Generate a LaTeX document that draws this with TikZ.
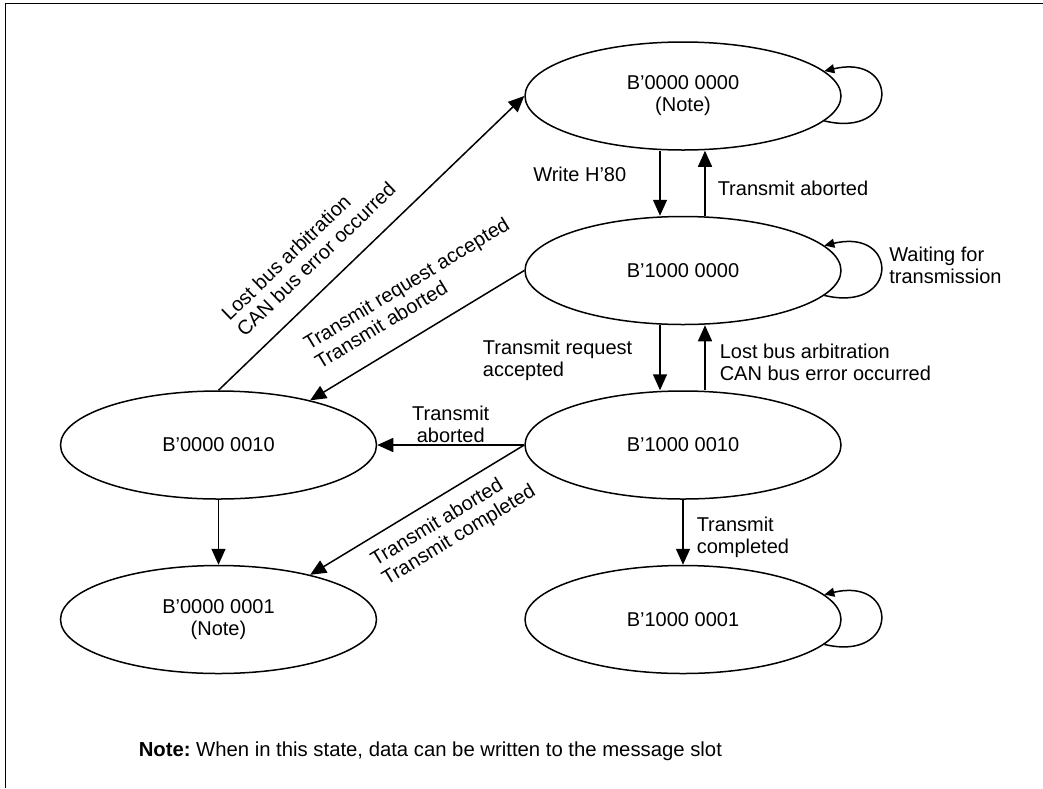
\documentclass[tikz,border=0pt]{standalone}
\usepackage{fontspec}
\setmainfont{Liberation Sans}
\usetikzlibrary{positioning,shapes.geometric,arrows.meta}

\begin{document}
\begin{tikzpicture}[x=.5pt,y=-.5pt,>={Triangle[length=8pt,width=7pt]},line width=.75pt,
 every node/.style={font=\fontsize{10}{11}\selectfont,align=center},
 state/.style={draw,ellipse,minimum width=158pt,minimum height=54pt},
 lbl/.style={align=left,inner sep=1pt},
 selfloop/.style={->,>={Triangle[length=5pt,width=4.5pt]}},
 node distance=32.5pt and 73.5pt]
\useasboundingbox (0,0) rectangle (1043,788);
\draw[line width=.5pt] (1043,3) -- (5,3) -- (5,788);
% message slot states
\node[state] (n00) at (683,96) {B’0000 0000\\(Note)};
\node[state,below=of n00] (n80) {B’1000 0000};
\node[state,below=of n80] (n82) {B’1000 0010};
\node[state,left=of n82] (n02) {B’0000 0010};
\node[state,below=of n02] (n01) {B’0000 0001\\(Note)};
\node[state,below=of n82] (n81) {B’1000 0001};
% transitions
\draw[->] ([xshift=-11.5pt]n00.south) -- ([xshift=-11.5pt]n80.north) node[lbl,midway,left=15.5pt,yshift=4.5pt] {Write H’80};
\draw[->] ([xshift=11pt]n80.north) -- ([xshift=11pt]n00.south) node[lbl,midway,right=5pt,yshift=-2.5pt] {Transmit aborted};
\draw[->] ([xshift=-11.5pt]n80.south) -- ([xshift=-11.5pt]n82.north) node[lbl,midway,left=12.5pt,yshift=-1.5pt] {Transmit request\\accepted};
\draw[->] ([xshift=11pt]n82.north) -- ([xshift=11pt]n80.south) node[lbl,midway,right=6pt,yshift=-2.5pt] {Lost bus arbitration\\CAN bus error occurred};
\draw[->] (n82.west) -- (n02.east) node[lbl,align=center,midway,above] {Transmit\\aborted};
\draw[->] (n82.west) -- (n01.26) node[lbl,pos=.41,sloped,below=5pt] {Transmit aborted\\Transmit completed};
\draw[->] (n80.west) -- (n02.26) node[lbl,pos=.43,sloped,above=9pt] {Transmit request accepted\\Transmit aborted};
\draw[->] (n02.north) -- (n00.west) node[lbl,pos=.38,sloped,above=8.5pt] {Lost bus arbitration\\CAN bus error occurred};
\draw[->] (n02) -- (n01);
\draw[->] (n82) -- (n81) node[lbl,midway,right=5.5pt,yshift=-2.5pt] {Transmit\\completed};
% self loops
\draw[selfloop] (n00.-10) .. controls +(75,18) and +(75,-18) .. (n00.10);
\draw[selfloop] (n80.-10) .. controls +(75,18) and +(75,-18) .. (n80.10) node[lbl,pos=.5,right=3pt,yshift=2.5pt] {Waiting for\\transmission};
\draw[selfloop] (n81.-10) .. controls +(75,18) and +(75,-18) .. (n81.10);
\node[lbl,anchor=base west,font=\fontsize{10.15}{11}\selectfont] (note) at (136,756) {\textbf{Note:}\hspace{-1pt} When in this state, data can be written to the message slot};
\end{tikzpicture}
\end{document}
